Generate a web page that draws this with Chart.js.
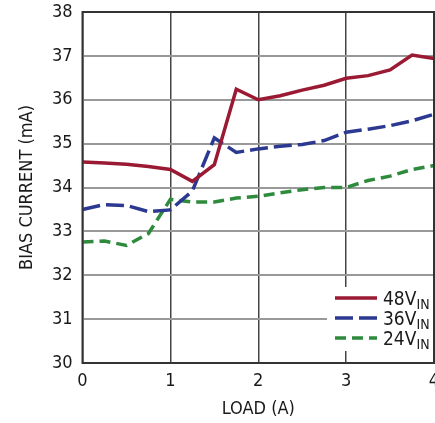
<!DOCTYPE html>
<html>
<head>
<meta charset="utf-8">
<script src="https://cdn.jsdelivr.net/npm/chart.js@4"></script>
<style>
  html, body { margin: 0; padding: 0; background: #fff; }
  #wrap { width: 435px; height: 423px; position: relative; }
</style>
</head>
<body>
<div id="wrap"><canvas id="myChart" width="435" height="423"></canvas></div>
<script>
const FONT = "'Liberation Sans Narrow', 'Arial Narrow', 'DejaVu Sans Condensed', sans-serif";

const loads = [0, 0.25, 0.5, 0.75, 1.0, 1.25, 1.5, 1.75, 2.0, 2.25, 2.5, 2.75, 3.0, 3.25, 3.5, 3.75, 4.0];
const v48 = [34.58, 34.56, 34.53, 34.48, 34.41, 34.14, 34.52, 36.24, 36.0, 36.09, 36.22, 36.33, 36.49, 36.55, 36.68, 37.02, 36.94];
const v36 = [33.5, 33.61, 33.59, 33.45, 33.49, 33.92, 35.13, 34.8, 34.88, 34.94, 34.98, 35.07, 35.26, 35.33, 35.41, 35.52, 35.67];
const v24 = [32.76, 32.78, 32.68, 32.95, 33.73, 33.67, 33.67, 33.76, 33.8, 33.88, 33.95, 34.0, 34.0, 34.16, 34.26, 34.41, 34.5];

const seriesNames = ['48V', '36V', '24V'];
const seriesColors = ['#9b1a33', '#2b3990', '#2e8b3e'];
const seriesDash = [[], [18, 6], [11, 6]];

const toPoints = (arr) => arr.map((y, i) => ({ x: loads[i], y: y }));

// legend with subscript, drawn inside the plot
const legendPlugin = {
    id: 'legendBox',
    afterDraw(chart)
    {
        const ctx = chart.ctx;
        const a = chart.chartArea;
        ctx.save();
        ctx.fillStyle = '#fff';
        ctx.fillRect(327, 287, a.right - 327, 64);

        const rows = [298, 318, 338];
        for(let i = 0; i < 3; i++)
        {
            ctx.strokeStyle = seriesColors[i];
            ctx.lineWidth = 3.5;
            ctx.setLineDash(seriesDash[i]);
            ctx.beginPath();
            ctx.moveTo(335, rows[i]);
            ctx.lineTo(377, rows[i]);
            ctx.stroke();
            ctx.setLineDash([]);

            ctx.fillStyle = '#1a1a1a';
            ctx.textBaseline = 'alphabetic';
            ctx.font = '19px ' + FONT;
            ctx.fillText(seriesNames[i], 383, rows[i] + 7);
            const w = ctx.measureText(seriesNames[i]).width;
            ctx.font = '14px ' + FONT;
            ctx.fillText('IN', 383 + w, rows[i] + 11);
        }

        // plot frame
        ctx.strokeStyle = '#333';
        ctx.lineWidth = 2;
        ctx.strokeRect(a.left, a.top, a.right - a.left, a.bottom - a.top);
        ctx.restore();
    }
};

const ctx = document.getElementById('myChart').getContext('2d');
const myChart = new Chart(ctx, {
    type: 'line',
    data: {
        datasets: [0, 1, 2].map((i) => ({
            label: seriesNames[i],
            data: toPoints([v48, v36, v24][i]),
            borderColor: seriesColors[i],
            borderWidth: 3.5,
            borderDash: seriesDash[i],
            pointRadius: 0,
            tension: 0,
            fill: false
        }))
    },
    options: {
        responsive: false,
        animation: false,
        layout: { padding: { top: 12, right: 1, left: 17, bottom: 0 } },
        plugins: {
            legend: { display: false },
            tooltip: { enabled: false }
        },
        scales: {
            x: {
                type: 'linear',
                min: 0,
                max: 4,
                ticks: {
                    stepSize: 1,
                    color: '#1a1a1a',
                    font: { family: FONT, size: 18 },
                    padding: 8,
                    maxRotation: 0
                },
                grid: { color: '#444', lineWidth: 1.5, drawTicks: false },
                border: { display: false },
                title: {
                    display: true,
                    text: 'LOAD (A)',
                    color: '#1a1a1a',
                    font: { family: FONT, size: 18 },
                    padding: { top: 2, bottom: 3 }
                },
                afterFit: (scale) =>
                {
                    scale.height = 60;
                    scale.paddingLeft = 0;
                    scale.paddingRight = 0;
                }
            },
            y: {
                min: 30,
                max: 38,
                ticks: {
                    stepSize: 1,
                    color: '#1a1a1a',
                    font: { family: FONT, size: 18 },
                    padding: 10
                },
                grid: { color: '#999', lineWidth: 2, drawTicks: false },
                border: { display: false },
                title: {
                    display: true,
                    text: 'BIAS CURRENT (mA)',
                    color: '#1a1a1a',
                    font: { family: FONT, size: 18 },
                    padding: { top: 0, bottom: 0 }
                },
                afterFit: (scale) =>
                {
                    scale.width = 65.5;
                    scale.paddingTop = 0;
                    scale.paddingBottom = 0;
                }
            }
        }
    },
    plugins: [legendPlugin]
});
</script>
</body>
</html>
